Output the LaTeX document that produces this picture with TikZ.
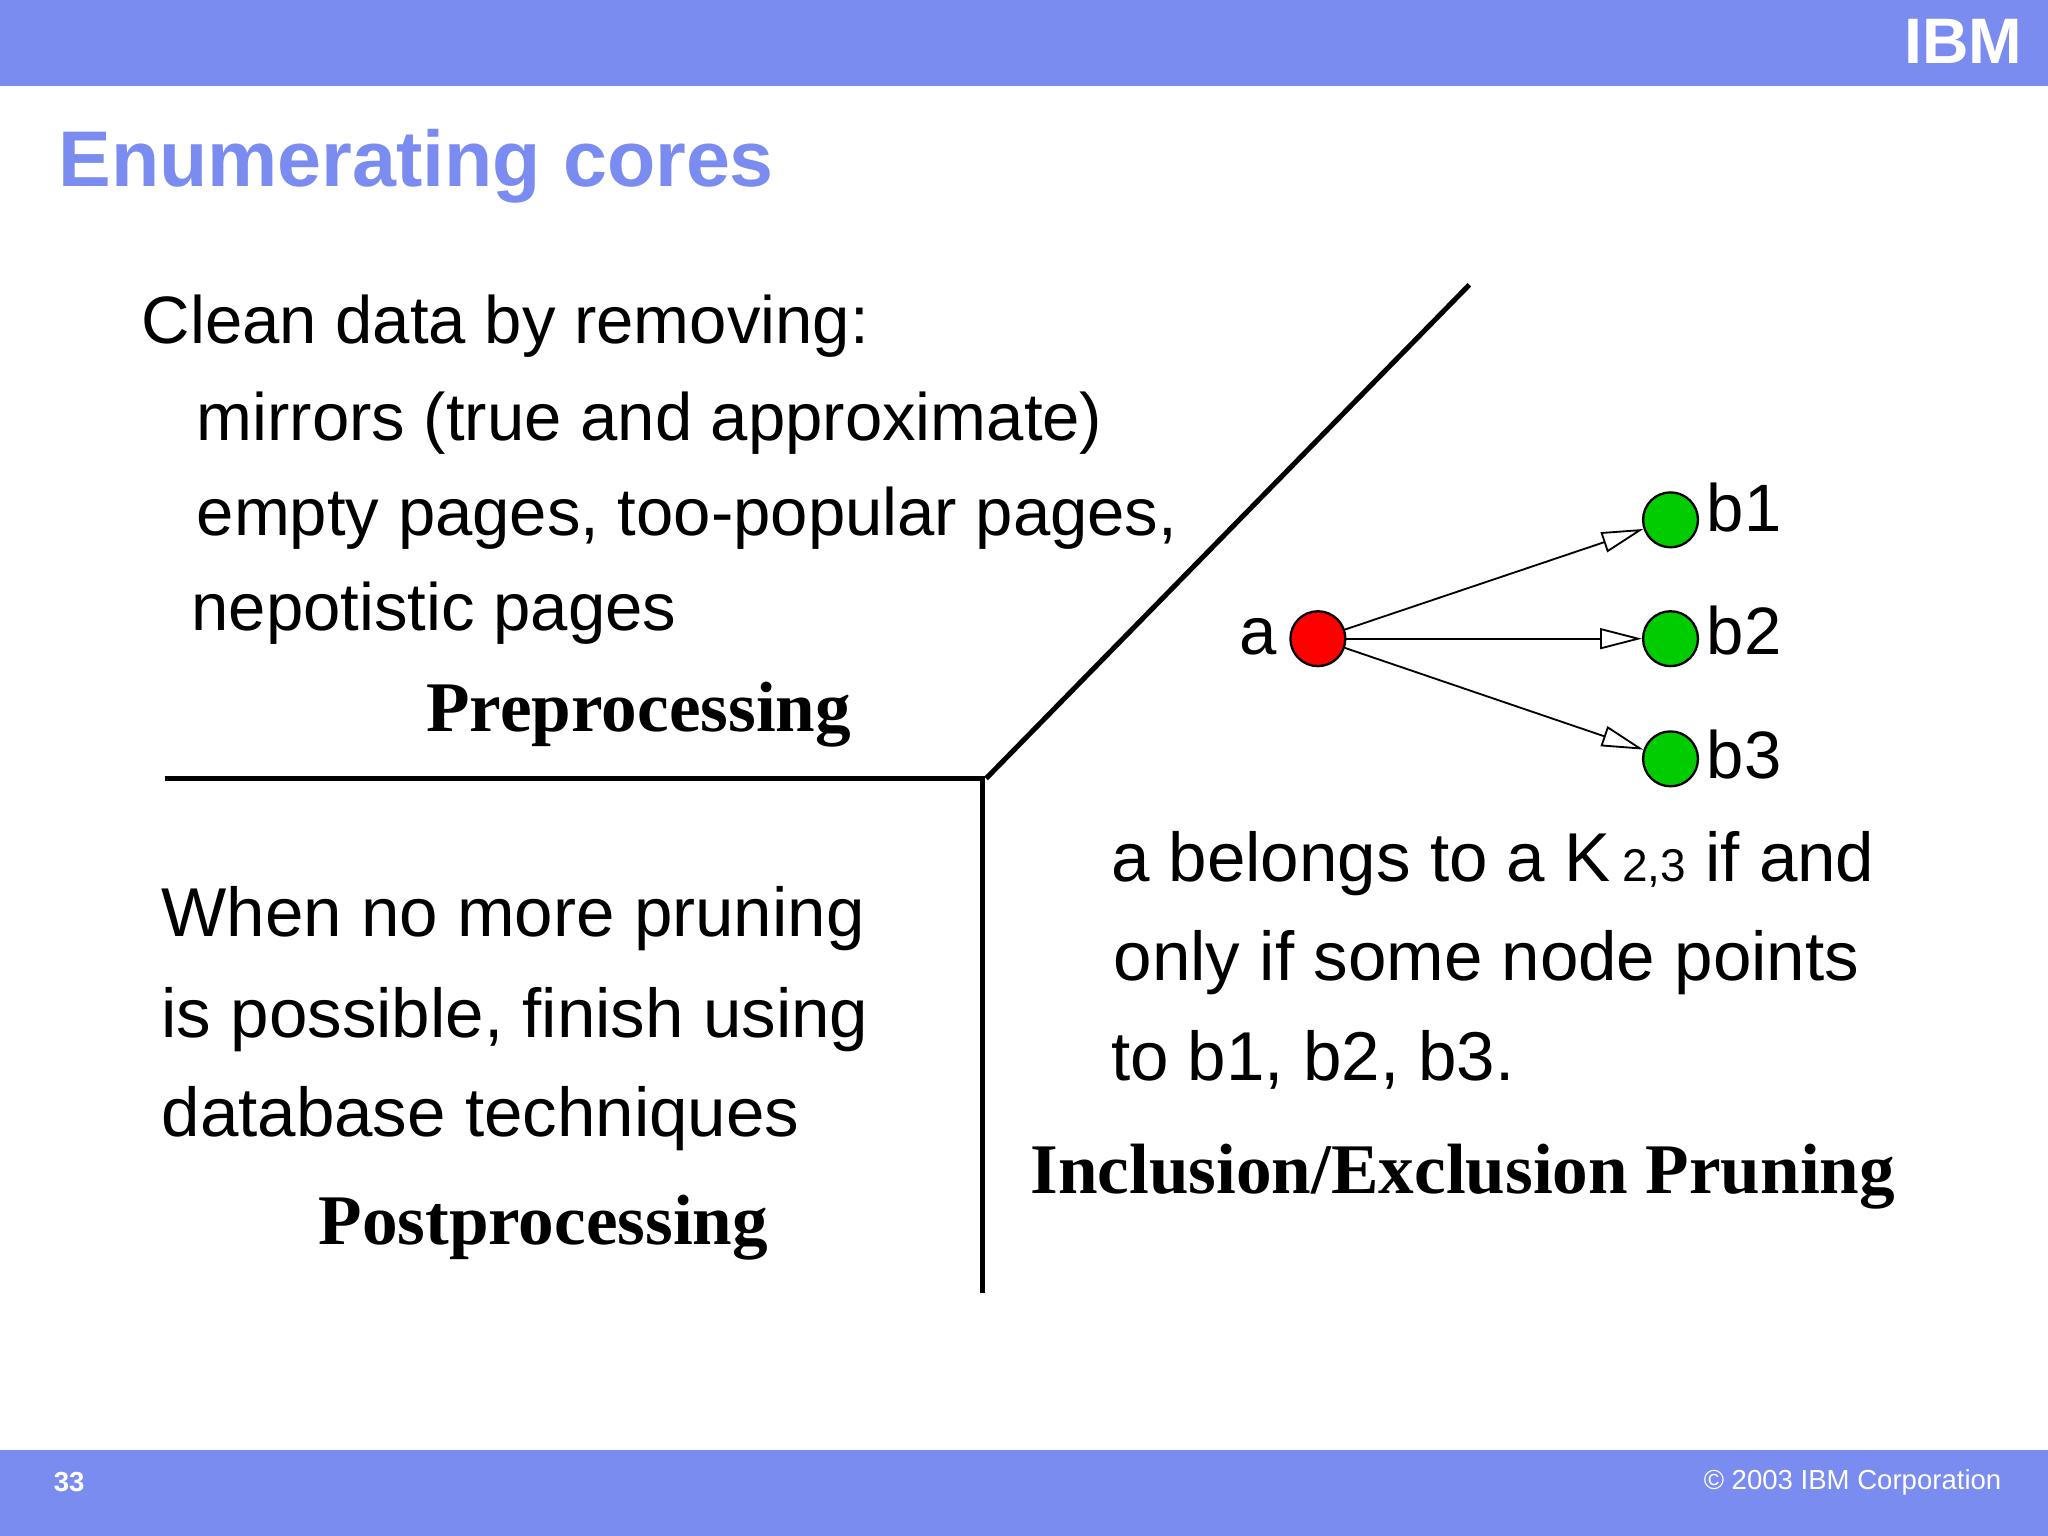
\documentclass[tikz,border=0pt]{standalone}
\usepackage{fontspec}
\setmainfont{Liberation Sans}
\newfontfamily\serifb{Liberation Serif}
\usetikzlibrary{arrows.meta}
\definecolor{band}{HTML}{7B8CF0}
\tikzset{
  body/.style={font=\fontsize{14.6}{18}\selectfont, anchor=base west, inner sep=0},
  bodyb/.style={font=\fontsize{15.05}{18}\selectfont, anchor=base west, inner sep=0},
  head/.style={font=\serifb\bfseries\fontsize{15.5}{18}\selectfont, anchor=base, inner sep=0},
  rule/.style={line width=1.1pt},
  vtx/.style={circle, draw=black, line width=0.5pt, minimum size=0.42cm, inner sep=0},
  edge/.style={line width=0.4pt, -{Triangle[open,length=3.2mm,width=1.6mm]}},
}
\begin{document}
\begin{tikzpicture}[x=0.01cm,y=-0.01cm]
\useasboundingbox (0,0) rectangle (1568,1176);
\fill[white] (0,0) rectangle (1568,1176);
\fill[band] (0,0) rectangle (1568,66);
\fill[band] (0,1110) rectangle (1568,1176);
\node[font=\bfseries\fontsize{14}{16}\selectfont, text=white, inner sep=0] (ibm) at (1503,32) {IBM};
\node[font=\bfseries\fontsize{17.2}{20}\selectfont, text=band, anchor=base west, inner sep=0] (title) at (44,143) {Enumerating cores};
\node[font=\bfseries\fontsize{6}{7}\selectfont, text=white, inner sep=0] (pg) at (53,1135) {33};
\node[font=\fontsize{6}{7}\selectfont, text=white, anchor=east, inner sep=0] (copy) at (1533,1135) {© 2003 IBM Corporation};

\node[body] (l1) at (108,263) {Clean data by removing:};
\node[body] (l2) at (150,337) {mirrors (true and approximate)};
\node[body] (l3) at (150,410) {empty pages, too-popular pages,};
\node[body] (l4) at (146,483) {nepotistic pages};
\node[head] (pre) at (489,560) {Preprocessing};

\node[bodyb] (p1) at (123,717) {When no more pruning};
\node[bodyb] (p2) at (123,794) {is possible, finish using};
\node[bodyb] (p3) at (123,870) {database techniques};
\node[head] (post) at (416,953) {Postprocessing};

\node[bodyb] (r1) at (850,675) {a belongs to a K\,{\fontsize{10}{12}\selectfont 2,3} if and};
\node[bodyb] (r2) at (852,751) {only if some node points};
\node[bodyb] (r3) at (850,827) {to b1, b2, b3.};
\node[head] (inc) at (1120,914) {Inclusion/Exclusion Pruning};

\coordinate (h0) at (126,596);
\coordinate (h1) at (752,596);
\coordinate (v1) at (752,990);
\coordinate (d0) at (755,596);
\coordinate (d1) at (1125,218);
\draw[rule] (h0) -- (h1) -- (v1);
\draw[rule] (d0) -- (d1);

\node[vtx, fill=red] (a) at (1009,489) {};
\node[vtx, fill=green!80!black] (b1) at (1279,398) {};
\node[vtx, fill=green!80!black] (b2) at (1279,489) {};
\node[vtx, fill=green!80!black] (b3) at (1279,581) {};
\draw[edge] (a) -- (b1);
\draw[edge] (a) -- (b2);
\draw[edge] (a) -- (b3);
\node[body] (la) at (948,501) {a};
\node[body] (lb1) at (1306,407) {b1};
\node[body] (lb2) at (1306,501) {b2};
\node[body] (lb3) at (1306,596) {b3};
\end{tikzpicture}
\end{document}
